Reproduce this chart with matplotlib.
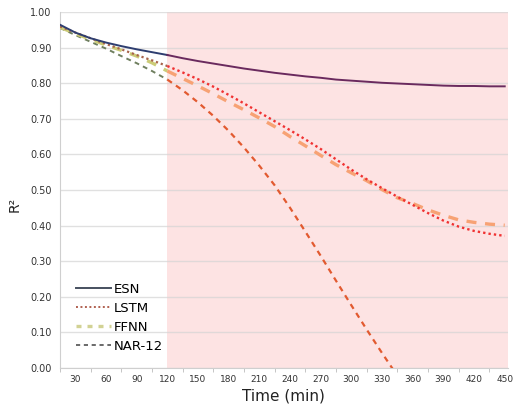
import numpy as np
import matplotlib
matplotlib.use("Agg")
import matplotlib.pyplot as plt
from matplotlib.lines import Line2D

# time steps (min)
t = [15, 30, 45, 60, 75, 90, 105, 120, 135, 150, 165, 180, 195, 210, 225,
     240, 255, 270, 285, 300, 315, 330, 345, 360, 375, 390, 405, 420, 435, 450]

esn = [0.964, 0.942, 0.926, 0.914, 0.904, 0.895, 0.887, 0.879, 0.870, 0.862,
       0.855, 0.848, 0.841, 0.835, 0.829, 0.824, 0.819, 0.815, 0.810, 0.807,
       0.804, 0.801, 0.799, 0.797, 0.795, 0.793, 0.792, 0.792, 0.791, 0.791]
lstm = [0.959, 0.942, 0.926, 0.910, 0.895, 0.879, 0.864, 0.848, 0.830, 0.811,
        0.790, 0.767, 0.743, 0.718, 0.693, 0.668, 0.642, 0.615, 0.586, 0.557,
        0.530, 0.505, 0.481, 0.458, 0.435, 0.414, 0.397, 0.385, 0.377, 0.371]
ffnn = [0.957, 0.939, 0.923, 0.907, 0.892, 0.876, 0.857, 0.834, 0.813, 0.792,
        0.770, 0.747, 0.725, 0.702, 0.678, 0.650, 0.624, 0.597, 0.571, 0.548,
        0.526, 0.501, 0.478, 0.462, 0.444, 0.429, 0.416, 0.409, 0.404, 0.401]
nar = [0.955, 0.935, 0.916, 0.897, 0.876, 0.856, 0.834, 0.810, 0.780, 0.746,
       0.708, 0.666, 0.619, 0.568, 0.513, 0.450, 0.383, 0.315, 0.245, 0.176,
       0.108, 0.042, -0.022]

split = 120
xticks = list(range(30, 451, 30))
yticks = [i / 10 for i in range(0, 11)]

fig = plt.figure(figsize=(5.15, 4.11), dpi=100)
ax = fig.add_axes([0.1165, 0.1046, 0.8695, 0.8664])

ax.axvspan(split, 453, color='#fde3e3', lw=0, zorder=0)
for y in yticks:
    ax.axhline(y, color='#d4d4d4', lw=1, alpha=0.7, zorder=1)

# (data, style before split, style after split)
series = [
    (nar, dict(color='#6f7f5f', lw=1.4, ls=(0, (2.5, 2.2))),
          dict(color='#e25a30', lw=1.6, ls=(0, (2.5, 2.2)))),
    (ffnn, dict(color='#cccc78', lw=2.4, ls=(0, (3, 2.6))),
           dict(color='#f7a274', lw=2.4, ls=(0, (3, 2.6)))),
    (lstm, dict(color='#a8644c', lw=1.6, ls=(0, (1, 1.3))),
           dict(color='#f03232', lw=1.7, ls=(0, (1, 1.3)))),
    (esn, dict(color='#2e3e70', lw=1.4, ls='-'),
          dict(color='#6a2a5e', lw=1.4, ls='-')),
]
for data, s1, s2 in series:
    tt = np.array(t[:len(data)])
    dd = np.array(data)
    m1 = tt <= split
    m2 = tt >= split
    ax.plot(tt[m1], dd[m1], zorder=3, **s1)
    ax.plot(tt[m2], dd[m2], zorder=3, **s2)

ax.set_xlim(15, 453)
ax.set_ylim(0, 1.0)
ax.set_xticks(xticks)
ax.set_xticks(list(range(15, 451, 30)), minor=True)
ax.set_yticks(yticks)
ax.set_yticklabels(['%.2f' % y for y in yticks])
ax.tick_params(axis='x', which='major', length=0, labelsize=6.5, colors='#333333', pad=5)
ax.tick_params(axis='x', which='minor', length=3, color='#bbbbbb')
ax.tick_params(axis='y', length=0, labelsize=7, colors='#333333', pad=6)

for side in ['top', 'right']:
    ax.spines[side].set_visible(False)
ax.spines['left'].set_color('#cfcfcf')
ax.spines['bottom'].set_color('#cfcfcf')

ax.set_xlabel('Time (min)', fontsize=11, color='#222222', labelpad=3)
ax.set_ylabel('R²', fontsize=10, color='#222222')
ax.yaxis.set_label_coords(-0.085, 0.46)

handles = [
    Line2D([], [], color='#46505f', lw=1.4, ls='-'),
    Line2D([], [], color='#b06050', lw=1.4, ls=(0, (1, 1.3))),
    Line2D([], [], color='#d2d294', lw=2.4, ls=(0, (1.5, 1.8))),
    Line2D([], [], color='#505050', lw=1.2, ls=(0, (2.5, 2.2))),
]
ax.legend(handles, ['ESN', 'LSTM', 'FFNN', 'NAR-12'], loc='lower left',
          bbox_to_anchor=(0.01, 0.01), frameon=False, fontsize=9.5,
          handlelength=2.6, handletextpad=0.25, labelspacing=0.45)

plt.savefig('out.png', dpi=100)
